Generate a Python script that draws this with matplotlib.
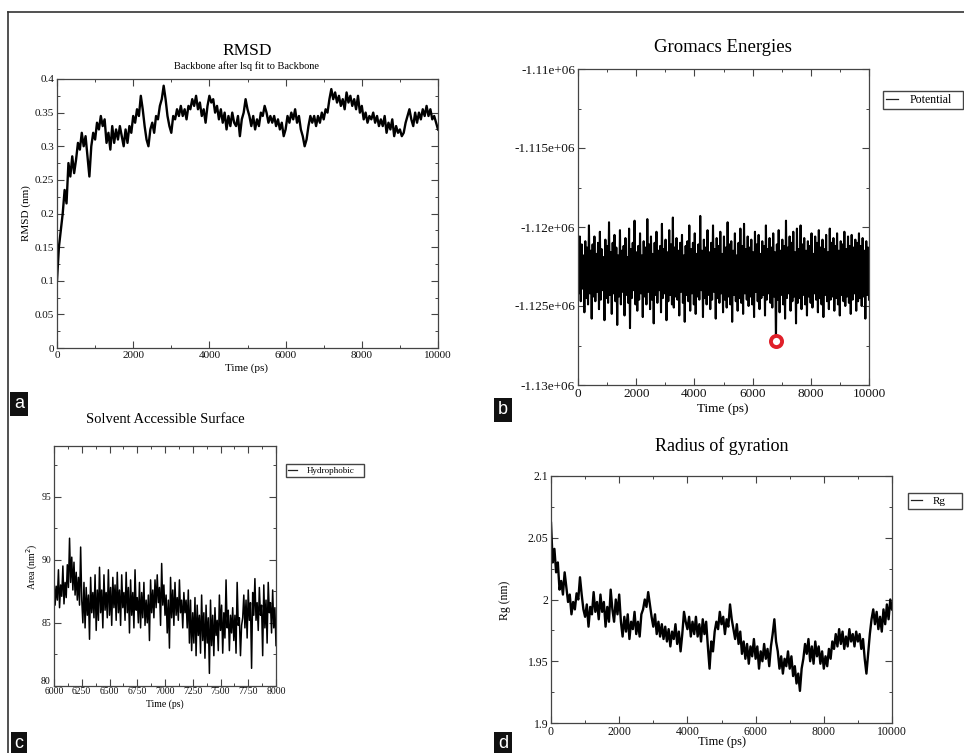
import matplotlib

matplotlib.use("Agg")
import matplotlib.pyplot as plt
import numpy as np
from matplotlib.lines import Line2D
from matplotlib.ticker import MultipleLocator

W, H = 964, 753
SERIF = "Liberation Serif"
plt.rcParams["font.family"] = SERIF

# --- (a) backbone RMSD, nm, 0-10000 ps ---
rmsd = [
    0.100, 0.150, 0.175, 0.200, 0.235, 0.215, 0.275, 0.255, 0.285, 0.260,
    0.280, 0.305, 0.295, 0.320, 0.300, 0.315, 0.285, 0.255, 0.300, 0.320,
    0.310, 0.335, 0.325, 0.345, 0.330, 0.340, 0.305, 0.320, 0.295, 0.330,
    0.305, 0.325, 0.310, 0.330, 0.315, 0.300, 0.325, 0.305, 0.330, 0.320,
    0.345, 0.335, 0.355, 0.345, 0.375, 0.355, 0.330, 0.310, 0.300, 0.325,
    0.335, 0.320, 0.345, 0.340, 0.360, 0.370, 0.390, 0.370, 0.345, 0.330,
    0.320, 0.345, 0.340, 0.355, 0.345, 0.360, 0.345, 0.355, 0.340, 0.360,
    0.355, 0.370, 0.360, 0.375, 0.355, 0.365, 0.345, 0.355, 0.335, 0.360,
    0.375, 0.365, 0.370, 0.350, 0.360, 0.340, 0.355, 0.335, 0.350, 0.325,
    0.345, 0.330, 0.350, 0.335, 0.330, 0.345, 0.315, 0.340, 0.350, 0.370,
    0.355, 0.345, 0.330, 0.345, 0.325, 0.340, 0.330, 0.350, 0.345, 0.360,
    0.350, 0.335, 0.345, 0.335, 0.345, 0.330, 0.340, 0.325, 0.335, 0.315,
    0.325, 0.345, 0.335, 0.350, 0.340, 0.355, 0.335, 0.345, 0.325, 0.315,
    0.300, 0.310, 0.330, 0.345, 0.335, 0.345, 0.330, 0.345, 0.335, 0.350,
    0.340, 0.355, 0.350, 0.370, 0.385, 0.370, 0.380, 0.365, 0.375, 0.360,
    0.370, 0.355, 0.380, 0.365, 0.375, 0.360, 0.370, 0.355, 0.375, 0.350,
    0.360, 0.340, 0.350, 0.335, 0.345, 0.340, 0.350, 0.335, 0.345, 0.330,
    0.340, 0.330, 0.345, 0.320, 0.335, 0.325, 0.340, 0.315, 0.330, 0.320,
    0.325, 0.315, 0.320, 0.335, 0.345, 0.355, 0.340, 0.330, 0.350, 0.335,
    0.350, 0.340, 0.355, 0.345, 0.360, 0.345, 0.355, 0.340, 0.345, 0.335,
    0.325,
]
t_rmsd = np.linspace(0, 10000, len(rmsd))

# --- (b) potential energy, units of 1e3 kJ/mol, 0-10000 ps ---
potential_k = [
    -1121.4, -1124.2, -1120.6, -1124.7, -1121.1, -1123.9, -1121.8, -1125.4, -1120.9, -1124.5,
    -1121.3, -1124.9, -1119.9, -1124.2, -1121.5, -1125.8, -1121.1, -1124.4, -1120.6, -1124.7,
    -1121.7, -1124.1, -1121.0, -1125.2, -1120.3, -1124.6, -1121.4, -1124.0, -1121.9, -1125.9,
    -1120.8, -1124.5, -1121.2, -1124.8, -1119.7, -1124.3, -1121.6, -1125.5, -1121.0, -1124.2,
    -1120.5, -1124.7, -1121.3, -1126.2, -1121.8, -1124.4, -1120.2, -1124.9, -1121.5, -1124.1,
    -1121.2, -1125.6, -1120.7, -1124.3, -1121.9, -1124.8, -1120.1, -1126.4, -1121.4, -1124.5,
    -1121.0, -1124.0, -1119.6, -1124.9, -1121.6, -1125.3, -1121.2, -1124.6, -1120.4, -1124.2,
    -1121.8, -1125.7, -1120.9, -1124.4, -1121.3, -1124.9, -1119.5, -1124.1, -1121.1, -1125.2,
    -1120.6, -1124.6, -1121.7, -1126.1, -1121.0, -1124.3, -1120.3, -1124.8, -1121.5, -1124.0,
    -1121.2, -1125.4, -1119.8, -1124.5, -1121.4, -1124.2, -1120.8, -1125.9, -1121.6, -1124.7,
    -1120.2, -1124.3, -1121.1, -1124.9, -1119.4, -1125.1, -1121.3, -1124.4, -1120.7, -1124.6,
    -1121.5, -1125.6, -1121.0, -1124.1, -1120.5, -1124.8, -1121.8, -1126.0, -1121.2, -1124.3,
    -1120.9, -1124.7, -1119.9, -1125.3, -1121.4, -1124.2, -1121.0, -1124.9, -1120.4, -1125.5,
    -1121.7, -1124.4, -1121.1, -1124.6, -1119.3, -1124.0, -1121.5, -1125.7, -1120.8, -1124.5,
    -1121.3, -1124.9, -1120.2, -1124.3, -1121.6, -1125.2, -1121.0, -1124.6, -1119.9, -1124.1,
    -1121.4, -1125.8, -1120.7, -1124.5, -1121.2, -1124.8, -1120.3, -1124.2, -1121.7, -1125.4,
    -1120.6, -1124.6, -1121.3, -1125.1, -1119.7, -1124.4, -1121.1, -1124.9, -1120.9, -1126.0,
    -1121.5, -1124.3, -1120.4, -1124.7, -1121.8, -1125.3, -1121.0, -1124.5, -1120.1, -1124.8,
    -1121.2, -1125.5, -1119.8, -1124.2, -1121.4, -1124.6, -1120.6, -1125.0, -1121.3, -1124.4,
    -1120.8, -1124.9, -1121.6, -1125.7, -1120.3, -1124.1, -1121.1, -1124.7, -1120.5, -1125.2,
    -1121.7, -1124.5, -1120.9, -1124.3, -1121.2, -1125.6, -1119.9, -1124.6, -1121.4, -1124.2,
    -1120.7, -1124.8, -1121.3, -1125.1, -1120.4, -1124.4, -1121.6, -1127.2, -1121.1, -1124.6,
    -1120.2, -1125.4, -1121.5, -1124.3, -1120.8, -1124.9, -1121.2, -1125.8, -1119.6, -1124.5,
    -1121.3, -1124.2, -1120.6, -1125.3, -1121.0, -1124.7, -1120.3, -1124.4, -1121.6, -1126.1,
    -1120.1, -1124.8, -1121.4, -1124.5, -1119.9, -1125.2, -1121.1, -1124.3, -1120.7, -1124.9,
    -1121.5, -1125.6, -1120.9, -1124.4, -1121.2, -1124.8, -1120.4, -1125.1, -1121.7, -1124.2,
    -1120.6, -1124.6, -1121.0, -1125.4, -1120.2, -1124.5, -1121.3, -1124.9, -1120.8, -1125.7,
    -1121.4, -1124.3, -1120.5, -1124.7, -1121.6, -1125.2, -1120.1, -1124.6, -1121.0, -1124.4,
    -1120.7, -1125.3, -1121.2, -1124.5, -1120.4, -1124.9, -1121.5, -1125.6, -1120.9, -1124.3,
    -1121.1, -1124.7, -1120.3, -1125.0, -1121.4, -1124.4, -1120.6, -1124.8, -1121.2, -1125.5,
    -1120.5, -1124.6, -1121.3, -1124.2, -1120.8, -1125.3, -1121.0, -1124.7, -1120.4, -1124.5,
    -1121.2, -1125.0, -1120.7, -1124.4, -1121.5, -1125.8, -1120.9, -1124.3, -1121.3, -1124.6,
]
potential = np.array(potential_k) * 1000.0
t_pot = np.linspace(0, 10000, len(potential))

# --- (c) hydrophobic SASA, nm^2, 6000-8000 ps ---
sasa = [
    88.6, 86.4, 87.9, 86.8, 89.2, 86.2, 88.0, 87.1, 89.5, 86.5,
    88.2, 87.0, 89.6, 87.8, 91.7, 88.2, 90.2, 87.6, 89.8, 87.2,
    89.0, 86.8, 88.6, 86.4, 91.0, 86.8, 85.0, 88.2, 84.6, 87.8,
    85.6, 87.2, 83.7, 88.6, 85.8, 87.4, 85.4, 88.8, 84.4, 87.6,
    85.2, 89.4, 85.8, 87.6, 84.6, 88.8, 86.0, 87.4, 85.4, 89.2,
    85.6, 87.8, 84.8, 88.6, 86.2, 88.0, 85.2, 89.0, 85.8, 87.6,
    84.8, 88.8, 86.2, 87.4, 85.2, 89.0, 85.8, 87.8, 84.2, 88.4,
    85.6, 87.4, 84.6, 89.2, 86.0, 87.0, 85.0, 88.2, 84.6, 87.4,
    85.4, 88.2, 84.8, 86.8, 85.0, 87.2, 83.6, 88.4, 85.8, 87.6,
    85.4, 88.4, 86.2, 88.8, 86.6, 87.8, 84.8, 89.7, 86.4, 88.0,
    85.6, 87.2, 84.2, 86.8, 83.0, 88.6, 85.4, 87.6, 84.8, 88.2,
    85.6, 87.0, 85.2, 88.4, 85.8, 86.8, 84.6, 87.4, 85.8, 86.8,
    84.6, 87.6, 83.4, 86.8, 82.8, 85.8, 83.4, 87.0, 82.4, 86.4,
    84.0, 85.6, 82.6, 87.2, 83.6, 85.8, 82.2, 86.4, 83.4, 85.4,
    81.0, 86.8, 83.2, 85.6, 82.4, 86.2, 84.0, 85.2, 82.8, 87.2,
    84.4, 86.4, 82.6, 85.8, 83.8, 88.4, 84.6, 86.0, 82.8, 85.6,
    84.2, 86.2, 83.6, 85.6, 82.6, 88.2, 84.8, 85.4, 82.4, 84.8,
    85.4, 87.2, 84.6, 86.8, 83.8, 87.6, 85.2, 86.6, 81.4, 87.4,
    85.6, 88.5, 85.2, 86.6, 84.4, 87.8, 85.6, 86.4, 82.4, 88.0,
    84.6, 86.8, 83.4, 88.2, 85.8, 86.6, 84.2, 87.6, 84.6, 86.2,
    83.2,
]
t_sasa = np.linspace(6000, 8000, len(sasa))

# --- (d) radius of gyration, nm, 0-10000 ps ---
rg = [
    2.062, 2.030, 2.041, 2.022, 2.030, 2.008, 2.015, 2.004, 2.022, 2.010,
    1.998, 2.004, 1.988, 1.998, 1.992, 2.005, 2.000, 2.018, 2.004, 1.992,
    1.986, 1.996, 1.978, 1.994, 1.988, 2.006, 1.990, 1.998, 1.984, 2.004,
    1.990, 1.998, 1.978, 1.994, 1.982, 2.008, 1.992, 1.982, 2.000, 1.988,
    2.004, 1.982, 1.970, 1.986, 1.974, 1.988, 1.968, 1.982, 1.976, 1.990,
    1.972, 1.982, 1.970, 1.988, 1.992, 2.000, 1.994, 2.006, 1.996, 1.986,
    1.978, 1.988, 1.972, 1.982, 1.970, 1.980, 1.968, 1.978, 1.966, 1.976,
    1.962, 1.974, 1.968, 1.980, 1.964, 1.974, 1.958, 1.972, 1.990, 1.982,
    1.976, 1.986, 1.970, 1.982, 1.972, 1.986, 1.970, 1.980, 1.966, 1.984,
    1.972, 1.982, 1.962, 1.944, 1.966, 1.958, 1.974, 1.982, 1.976, 1.990,
    1.980, 1.986, 1.972, 1.984, 1.978, 1.996, 1.984, 1.976, 1.968, 1.980,
    1.964, 1.974, 1.956, 1.966, 1.952, 1.964, 1.948, 1.962, 1.954, 1.968,
    1.952, 1.962, 1.944, 1.958, 1.950, 1.964, 1.952, 1.960, 1.946, 1.962,
    1.972, 1.984, 1.966, 1.958, 1.944, 1.954, 1.940, 1.952, 1.946, 1.958,
    1.944, 1.954, 1.938, 1.946, 1.932, 1.940, 1.926, 1.944, 1.952, 1.964,
    1.956, 1.968, 1.950, 1.962, 1.948, 1.966, 1.954, 1.962, 1.948, 1.958,
    1.944, 1.954, 1.946, 1.960, 1.952, 1.966, 1.960, 1.972, 1.962, 1.976,
    1.964, 1.974, 1.960, 1.970, 1.962, 1.976, 1.966, 1.972, 1.962, 1.974,
    1.966, 1.972, 1.960, 1.968, 1.952, 1.940, 1.956, 1.972, 1.984, 1.992,
    1.980, 1.990, 1.976, 1.986, 1.974, 1.992, 1.980, 1.996, 1.984, 2.000,
    1.992,
]
t_rg = np.linspace(0, 10000, len(rg))

energy_ticks = [-1.13e6, -1.125e6, -1.12e6, -1.115e6, -1.11e6]
energy_labels = ["-1.13e+06", "-1.125e+06", "-1.12e+06", "-1.115e+06", "-1.11e+06"]

fig = plt.figure(figsize=(W / 100, H / 100), dpi=100)


def px_axes(x0, y0, x1, y1):
    return fig.add_axes([x0 / W, 1 - y1 / H, (x1 - x0) / W, (y1 - y0) / H])


def ptext(x, y, s, **kw):
    kw.setdefault("ha", "center")
    kw.setdefault("va", "center")
    return fig.text(x / W, 1 - y / H, s, **kw)


def grace_style(ax, fs):
    for sp in ax.spines.values():
        sp.set_color("#444444")
        sp.set_linewidth(0.9)
    ax.tick_params(which="both", direction="in", top=True, right=True,
                   colors="#444444", labelcolor="#111111", labelsize=fs, pad=2)
    ax.tick_params(which="major", length=5, width=0.8)
    ax.tick_params(which="minor", length=2.5, width=0.7)


def grace_legend(ax, label, x0, y0, x1, y1, fs):
    ax.legend([Line2D([0], [0], color="#222222", lw=0.9)], [label],
              loc="center", bbox_to_anchor=(x0 / W, 1 - y1 / H, (x1 - x0) / W, (y1 - y0) / H),
              bbox_transform=fig.transFigure, fancybox=False, edgecolor="#444444",
              framealpha=1, fontsize=fs, handlelength=1.0, handletextpad=1.0,
              borderpad=0.25, borderaxespad=0, mode="expand")


# (a) RMSD
ax = px_axes(57, 79, 438, 348)
ax.plot(t_rmsd, rmsd, color="black", lw=1.7)
ax.set_xlim(0, 10000)
ax.set_ylim(0, 0.4)
ax.xaxis.set_major_locator(MultipleLocator(2000))
ax.xaxis.set_minor_locator(MultipleLocator(1000))
ax.set_yticks([0, 0.05, 0.1, 0.15, 0.2, 0.25, 0.3, 0.35, 0.4])
ax.set_yticklabels(["0", "0.05", "0.1", "0.15", "0.2", "0.25", "0.3", "0.35", "0.4"])
ax.yaxis.set_minor_locator(MultipleLocator(0.025))
grace_style(ax, 8)
ptext(247, 51, "RMSD", fontsize=12.5)
ptext(247, 66, "Backbone after lsq fit to Backbone", fontsize=7.5)
ptext(247, 368, "Time (ps)", fontsize=8)
ptext(26, 213, "RMSD (nm)", fontsize=8, rotation=90)

# (b) energies
ax = px_axes(578, 69, 869, 385)
ax.plot(t_pot, potential, color="black", lw=1.5)
i_min = int(np.argmin(potential))
ax.plot(t_pot[i_min], potential[i_min], "o", ms=8, mfc="white", mec="#e0202a", mew=2.8)
ax.set_xlim(0, 10000)
ax.set_ylim(-1.13e6, -1.11e6)
ax.xaxis.set_major_locator(MultipleLocator(2000))
ax.xaxis.set_minor_locator(MultipleLocator(1000))
ax.set_yticks(energy_ticks)
ax.set_yticklabels(energy_labels)
ax.yaxis.set_minor_locator(MultipleLocator(2500))
grace_style(ax, 9.5)
ptext(723, 47, "Gromacs Energies", fontsize=13.5)
ptext(723, 409, "Time (ps)", fontsize=9.5)
grace_legend(ax, "Potential", 883, 91, 963, 109, 8.5)

# (c) SASA
ax = px_axes(54, 446, 276, 686)
ax.plot(t_sasa, sasa, color="black", lw=1.1)
ax.set_xlim(6000, 8000)
ax.set_ylim(80, 99)
ax.xaxis.set_major_locator(MultipleLocator(250))
ax.xaxis.set_minor_locator(MultipleLocator(125))
ax.set_yticks([80, 85, 90, 95])
ax.set_yticklabels(["", "85", "90", "95"])
ax.yaxis.set_minor_locator(MultipleLocator(2.5))
grace_style(ax, 7)
ax.tick_params(axis="x", pad=1)
# the bottom "80" label sits just above the x tick labels, as in grace output
ax.text(-0.018, 0.0, "80", transform=ax.transAxes, ha="right", va="bottom", fontsize=7)
ptext(165, 420, "Solvent Accessible Surface", fontsize=10.5)
ptext(165, 704, "Time (ps)", fontsize=7)
ptext(32, 567, "Area (nm$^2$)", fontsize=7, rotation=90)
grace_legend(ax, "Hydrophobic", 286, 462, 364, 479, 6.5)

# (d) radius of gyration
ax = px_axes(551, 476, 892, 723)
ax.plot(t_rg, rg, color="black", lw=1.7)
ax.set_xlim(0, 10000)
ax.set_ylim(1.9, 2.1)
ax.xaxis.set_major_locator(MultipleLocator(2000))
ax.xaxis.set_minor_locator(MultipleLocator(1000))
ax.set_yticks([1.9, 1.95, 2.0, 2.05, 2.1])
ax.set_yticklabels(["1.9", "1.95", "2", "2.05", "2.1"])
ax.yaxis.set_minor_locator(MultipleLocator(0.025))
grace_style(ax, 8.5)
ptext(722, 446, "Radius of gyration", fontsize=13)
ptext(722, 742, "Time (ps)", fontsize=9)
ptext(505, 600, "Rg (nm)", fontsize=8.5, rotation=90)
grace_legend(ax, "Rg", 908, 493, 962, 509, 8)

# page frame
fig.add_artist(Line2D([8 / W, 1], [1 - 12 / H, 1 - 12 / H], color="#333333", lw=1.2))
fig.add_artist(Line2D([8 / W, 8 / W], [1 - 12 / H, 0], color="#333333", lw=1.2))

# panel letters
for letter, (lx, ly) in zip("abcd", [(19, 404), (503, 410), (19, 744), (503, 744)]):
    ptext(lx, ly, letter, fontsize=13, color="white", family="Liberation Sans",
          bbox=dict(boxstyle="square,pad=0.22", facecolor="#111111", edgecolor="none"))

fig.savefig("out.png", dpi=100)
